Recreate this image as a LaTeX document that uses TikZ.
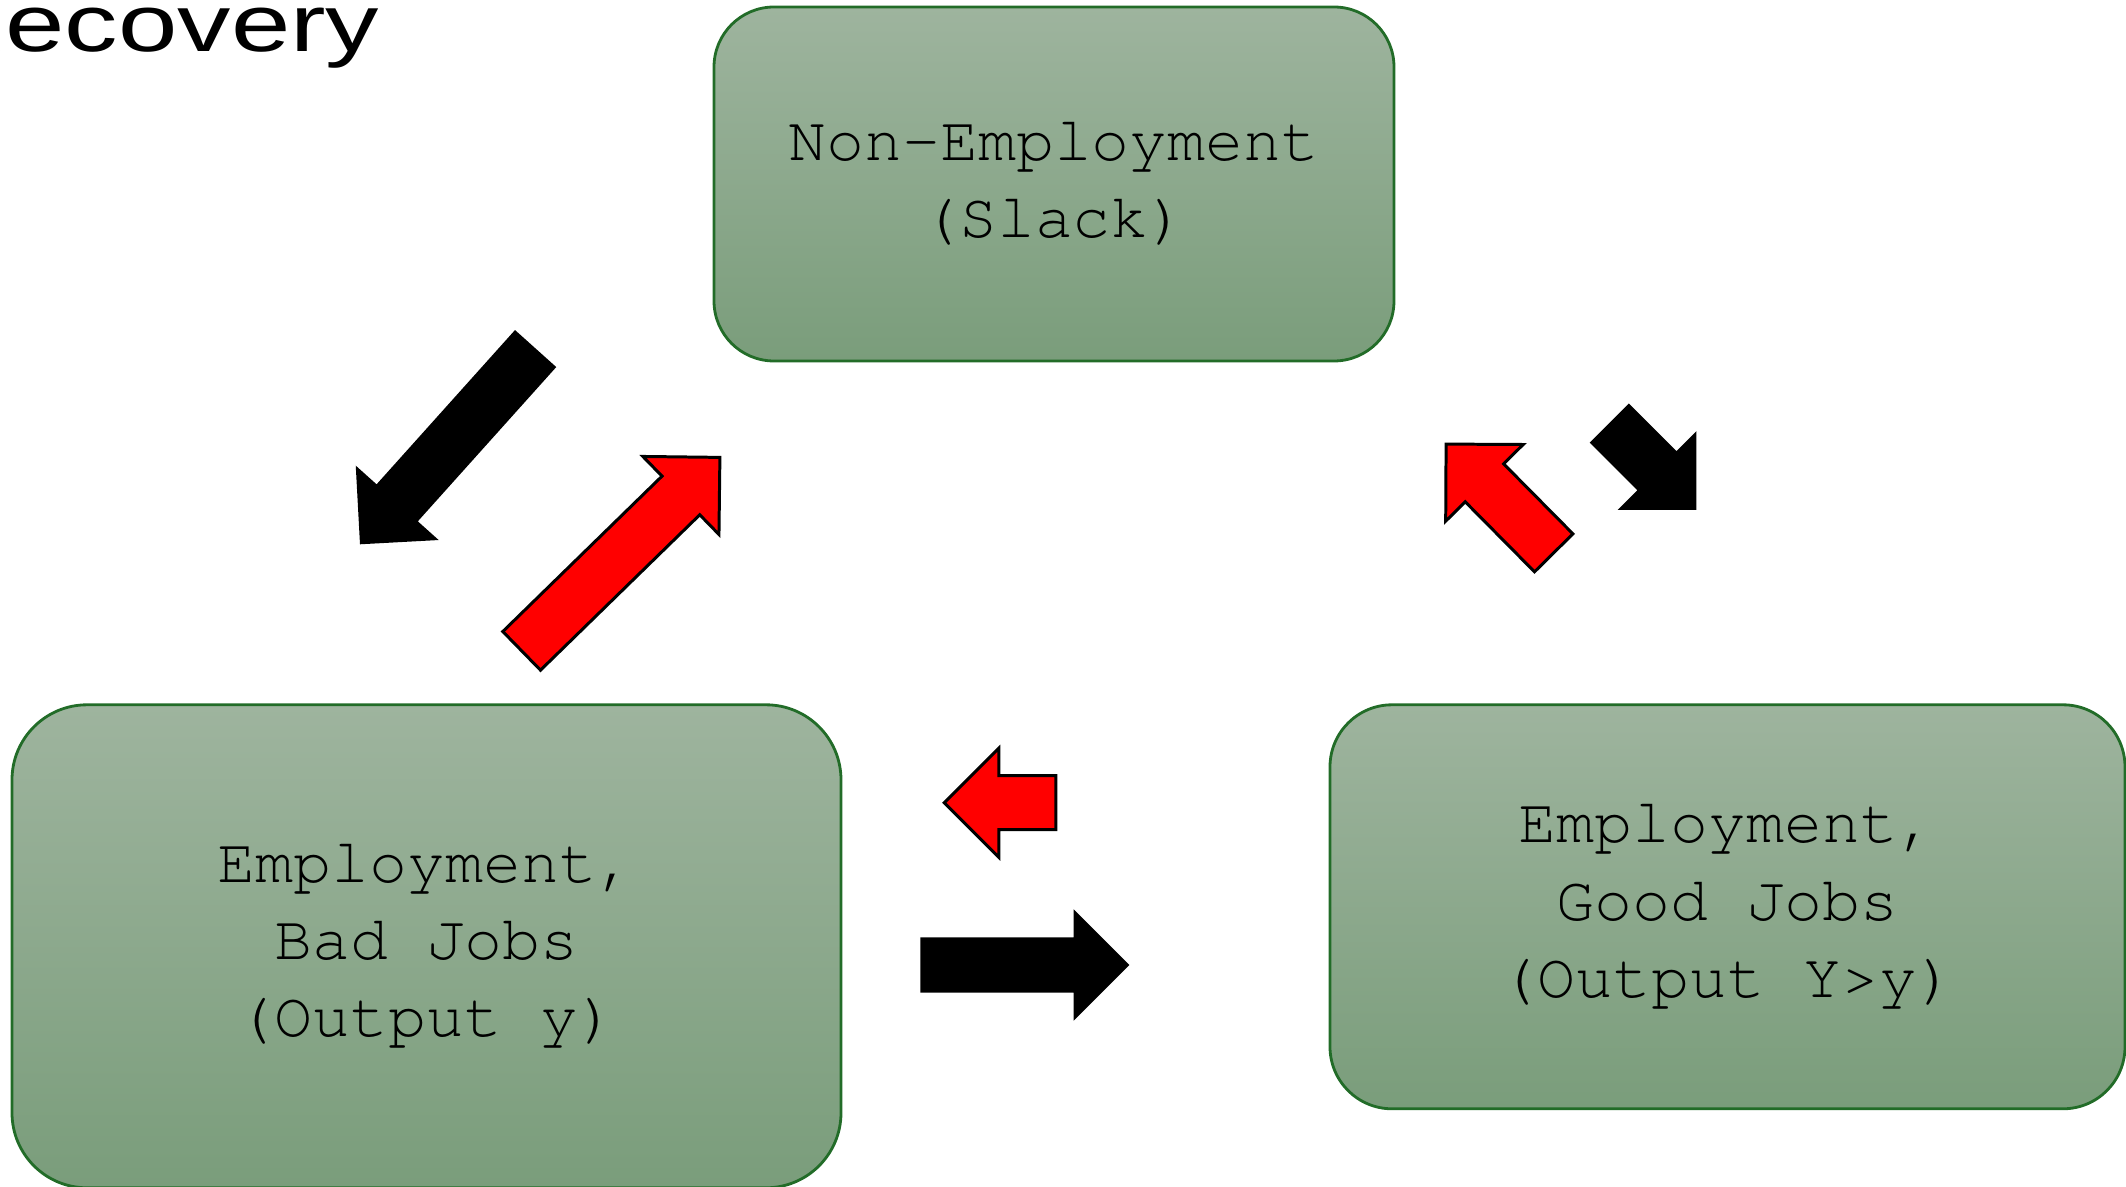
\documentclass[tikz,border=0pt]{standalone}
\usepackage{fontspec}
\setmonofont{TeX Gyre Cursor}
\newfontfamily\titlefont{Liberation Sans}
\usepackage{tikz}
\usetikzlibrary{positioning, shapes.arrows}

\definecolor{boxtop}{RGB}{158,180,158}
\definecolor{boxbottom}{RGB}{122,157,123}
\definecolor{boxline}{RGB}{34,108,40}

\begin{document}
\begin{tikzpicture}[
        state/.style={
            draw=boxline,
            line width=0.8pt,
            top color=boxtop,
            bottom color=boxbottom,
            rectangle,
            align=center,
            font=\ttfamily\fontsize{18}{22}\selectfont
        },
        flow/.style={
            single arrow,
            fill=black,
            minimum height=#1,
            inner xsep=0pt,
            inner ysep=0.27cm,
            single arrow head extend=0.28cm,
            outer sep=0pt,
            anchor=tip
        },
        back/.style={
            flow=#1,
            fill=red,
            draw=black,
            line width=0.85pt,
            inner ysep=0.255cm,
            single arrow head extend=0.275cm
        }
    ]

    \useasboundingbox (0,0) rectangle (21.26,-11.87);

    % Title (runs off the left edge)
    \node[anchor=base east, inner sep=0pt, font=\titlefont\fontsize{23}{27}\selectfont] (title) at (3.80,-0.52) {\scalebox{1.32}[1]{Recovery}};

    % Top node
    \node[state, minimum width=6.8cm, minimum height=3.54cm, rounded corners=0.6cm] (slack) at (10.54,-1.84) {Non-Employment\\(Slack)};

    % Bottom row
    \node[state, minimum width=8.29cm, minimum height=4.83cm, rounded corners=0.75cm, below=3.41cm of slack, xshift=-6.275cm] (bad) {Employment,\\Bad Jobs\\(Output y)};
    \node[state, minimum width=7.95cm, minimum height=4.04cm, rounded corners=0.62cm, below=3.41cm of slack, xshift=6.735cm] (good) {Employment,\\Good Jobs\\(Output Y>y)};

    % Arrows: slack <-> bad jobs
    \node[flow=2.63cm, rotate=228.1] (toBad) at (3.60,-5.443) {};
    \node[back=2.77cm, rotate=44.3] (fromBad) at (7.199,-4.574) {};

    % Arrows: slack <-> good jobs
    \node[back=1.53cm, rotate=134.7] (fromGood) at (14.461,-4.441) {};
    \node[flow=1.23cm, rotate=-45] (toGood) at (16.963,-5.10) {};

    % Arrows: bad jobs <-> good jobs
    \node[back=1.115cm, rotate=180] (toBadSide) at (9.443,-8.027) {};
    \node[flow=2.09cm] (toGoodSide) at (11.293,-9.65) {};

\end{tikzpicture}
\end{document}
